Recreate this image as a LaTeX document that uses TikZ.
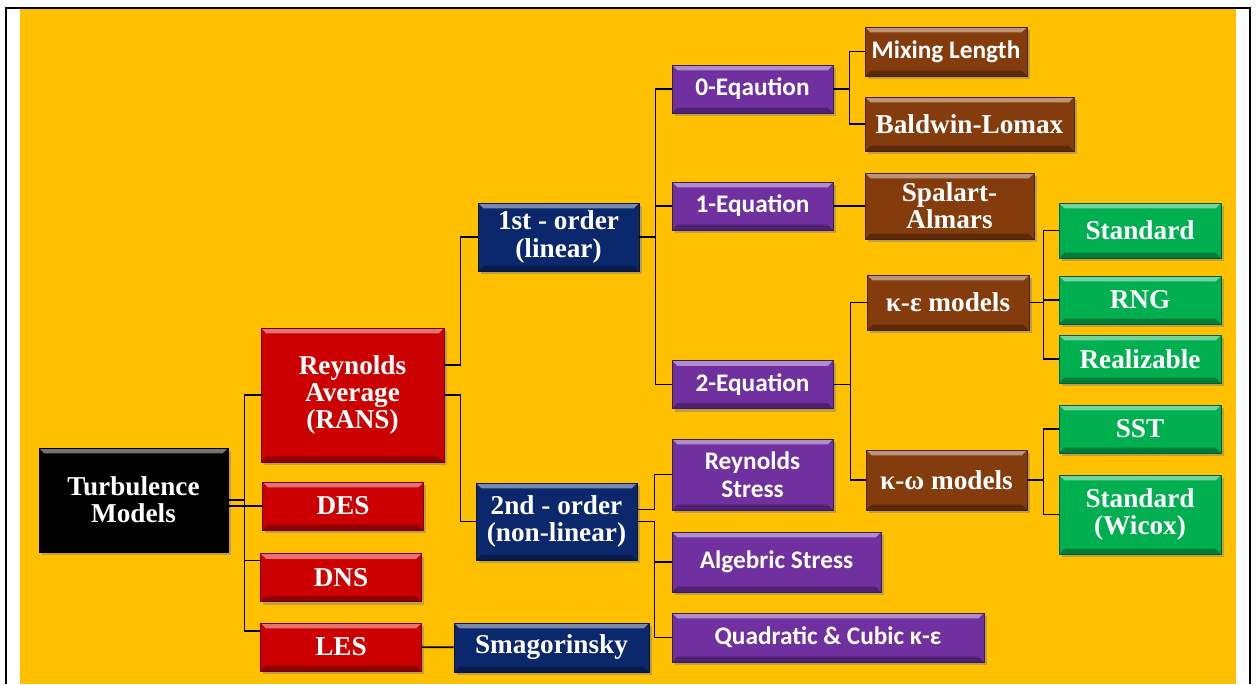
\documentclass[tikz,border=0pt]{standalone}
\usepackage{fontspec}
\setmainfont{Liberation Serif}
\newfontfamily\calibrifont{Carlito}
\usetikzlibrary{shadows,calc}
\definecolor{bgorange}{RGB}{255,192,0}
\definecolor{boxred}{RGB}{204,0,0}
\definecolor{boxnavy}{RGB}{12,40,108}
\definecolor{boxpurple}{RGB}{112,48,160}
\definecolor{boxbrown}{RGB}{132,60,12}
\definecolor{boxgreen}{RGB}{0,176,80}

\begin{document}
\begin{tikzpicture}[x=0.02cm, y=-0.02cm,
  bevel/.style={fill=#1, draw=#1!55!black, text=white, align=center, inner sep=1pt,
    drop shadow={shadow xshift=1.5pt, shadow yshift=-1.8pt, opacity=.5},
    path picture={
      \fill[#1!55!white] (path picture bounding box.north west) -- (path picture bounding box.north east)
        -- ([shift={(-3pt,-3pt)}]path picture bounding box.north east)
        -- ([shift={(3pt,-3pt)}]path picture bounding box.north west) -- cycle;
      \fill[#1!70!black] (path picture bounding box.south west) -- (path picture bounding box.south east)
        -- ([shift={(-3pt,3pt)}]path picture bounding box.south east)
        -- ([shift={(3pt,3pt)}]path picture bounding box.south west) -- cycle;
    }},
  ser/.style={font=\bfseries\fontsize{15.5}{15.5}\selectfont},
  san/.style={font=\calibrifont\bfseries\fontsize{14.4}{16}\selectfont},
  unit/.style={minimum width=3.22cm, minimum height=.96cm},
  link/.style={line width=0.9pt, line join=miter},
]

% --- frame ---
\useasboundingbox (0,0) rectangle (1258,684);
\fill[white] (0,0) rectangle (1258,684);
\fill[bgorange] (20,9) rectangle (1236,684);
\draw[line width=1.1pt] (6,684) -- (6,8) -- (1250,8) -- (1250,684);

% --- root and first level ---
\node[bevel=black, ser, minimum width=3.78cm, minimum height=2.08cm] (turb) at (133.5,500) {Turbulence\\Models};
\node[bevel=boxred, ser, minimum width=3.66cm, minimum height=2.68cm] (rans) at (352.5,395) {Reynolds\\Average\\(RANS)};
\node[bevel=boxred, ser, unit] (des) at (343,506) {DES};
\node[bevel=boxred, ser, unit] (dns) at (341,577.5) {DNS};
\node[bevel=boxred, ser, unit] (les) at (341,647) {LES};
\node[bevel=boxnavy, ser, minimum width=3.9cm, minimum height=.98cm] (smag) at (551.5,647.5) {Smagorinsky};

% --- RANS orders ---
\node[bevel=boxnavy, ser, minimum width=3.22cm, minimum height=1.36cm] (ord1) at (558.5,237) {1st - order\\(linear)};
\node[bevel=boxnavy, ser, minimum width=3.22cm, minimum height=1.54cm] (ord2) at (556.5,521.5) {2nd - order\\(non-linear)};

% --- equation families ---
\node[bevel=boxpurple, san, unit] (eq0) at (752.5,89) {0-Eqaution};
\node[bevel=boxpurple, san, unit] (eq1) at (752.5,206) {1-Equation};
\node[bevel=boxpurple, san, unit] (eq2) at (752.5,384.5) {2-Equation};
\node[bevel=boxpurple, san, minimum width=3.22cm, minimum height=1.42cm] (rs) at (752.5,474.5) {Reynolds\\Stress};
\node[bevel=boxpurple, san, minimum width=4.18cm, minimum height=1.2cm] (alg) at (776.5,562) {Algebric Stress};
\node[bevel=boxpurple, san, minimum width=6.24cm, minimum height=.98cm] (quad) at (828,637.5) {Quadratic \& Cubic κ-ε};

% --- models ---
\node[bevel=boxbrown, san, minimum width=3.24cm, minimum height=.98cm] (mix) at (946,51.5) {Mixing Length};
\node[bevel=boxbrown, ser, minimum width=4.18cm, minimum height=1.08cm] (bald) at (969.5,124) {Baldwin-Lomax};
\node[bevel=boxbrown, ser, minimum width=3.38cm, minimum height=1.32cm] (spal) at (949.5,206) {Spalart-\\Almars};
\node[bevel=boxbrown, ser, minimum width=3.24cm, minimum height=1.1cm] (keps) at (948,302.5) {κ-ε models};
\node[bevel=boxbrown, ser, minimum width=3.22cm, minimum height=1.2cm] (kom) at (946.5,480) {κ-ω models};

% --- variants ---
\node[bevel=boxgreen, ser, minimum width=3.24cm, minimum height=1.1cm] (std) at (1140,230.5) {Standard};
\node[bevel=boxgreen, ser, minimum width=3.24cm, minimum height=.96cm] (rng) at (1140,300) {RNG};
\node[bevel=boxgreen, ser, minimum width=3.24cm, minimum height=.96cm] (real) at (1140,359) {Realizable};
\node[bevel=boxgreen, ser, minimum width=3.24cm, minimum height=.96cm] (sst) at (1140,429) {SST};
\node[bevel=boxgreen, ser, minimum width=3.24cm, minimum height=1.58cm] (wil) at (1140,514.5) {Standard\\(Wicox)};

% --- links ---
\draw[link] (turb.east) -- ++(16,0) |- (rans.west);
\draw[link] (turb.east) -- ++(16,0) |- (des.west);
\draw[link] ($(turb.east)+(0,6)$) -- ++(16,0) |- ($(dns.west)+(0,-17)$);
\draw[link] ($(turb.east)+(0,6)$) -- ++(16,0) |- ($(les.west)+(0,-16)$);
\draw[link] (les) -- (smag);
\draw[link] ($(rans.east)+(0,-30)$) -- ++(16,0) |- (ord1.west);
\draw[link] (rans.east) -- ++(16,0) |- (ord2.west);
\foreach \c in {eq0,eq1,eq2}
  \draw[link] (ord1.east) -- ++(16,0) |- (\c.west);
\draw[link] ($(ord2.east)+(0,-12)$) -- ++(17,0) |- (rs.west);
\foreach \c in {alg,quad}
  \draw[link] (ord2.east) -- ++(17,0) |- (\c.west);
\foreach \c in {mix,bald}
  \draw[link] (eq0.east) -- ++(16,0) |- (\c.west);
\draw[link] (eq1) -- (spal);
\foreach \c in {keps,kom}
  \draw[link] (eq2.east) -- ++(17,0) |- (\c.west);
\foreach \c in {std,rng,real}
  \draw[link] (keps.east) -- ++(14,0) |- (\c.west);
\foreach \c in {sst,wil}
  \draw[link] (kom.east) -- ++(16,0) |- (\c.west);
\end{tikzpicture}
\end{document}
